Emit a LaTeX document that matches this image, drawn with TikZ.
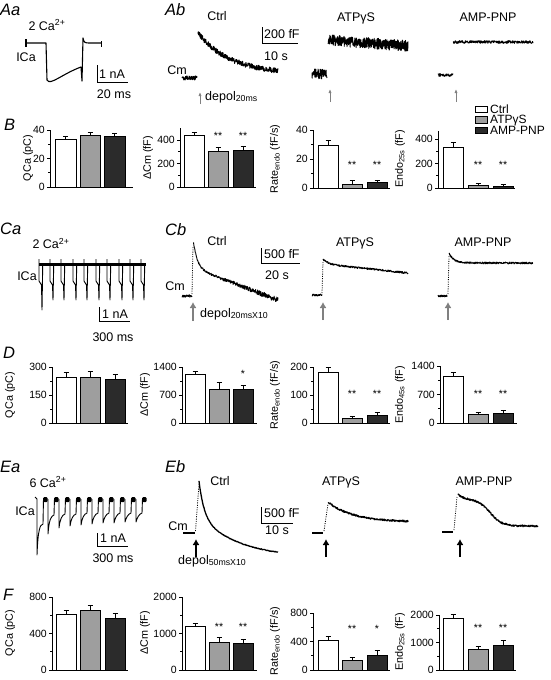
\documentclass[tikz,border=0pt]{standalone}
\usepackage{fontspec}
\setmainfont{Liberation Sans}
\usetikzlibrary{arrows.meta}
\definecolor{barg}{gray}{0.62}
\definecolor{bark}{gray}{0.17}
\definecolor{arrg}{gray}{0.5}
\newcommand\chA{0}\newcommand\chY{0}\newcommand\chS{1}
\newcommand\pbar[5]{%
  \draw[barline,fill=#5] ({\chA+#1},\chY) rectangle ({\chA+#2},{\chY-#3*\chS});
  \draw[barline] ({\chA+(#1+#2)/2},{\chY-#3*\chS}) -- ({\chA+(#1+#2)/2},{\chY-#4*\chS})
     ({\chA+(#1+#2)/2-2.5},{\chY-#4*\chS}) -- ({\chA+(#1+#2)/2+2.5},{\chY-#4*\chS});
}
\newcommand\paxis[5]{%
  \draw[axline] (\chA,{\chY-#1*\chS}) -- (\chA,\chY) -- ({\chA+#2},\chY);
  \foreach \v in {#3} {\draw[axline] (\chA,{\chY-\v*\chS}) -- ({\chA-3.5},{\chY-\v*\chS});
     \node[ticklab] (#5\v) at ({\chA-5},{\chY-\v*\chS}) {\v};}
  \foreach \v in {#4} {\draw[axline] (\chA,{\chY-\v*\chS}) -- ({\chA-2},{\chY-\v*\chS});}
}
\tikzset{
  lab/.style={font=\fontsize{12.5}{14}\selectfont, inner sep=0pt, anchor=base},
  labw/.style={font=\fontsize{12.5}{14}\selectfont, inner sep=0pt, anchor=base west},
  leg/.style={font=\fontsize{12}{14}\selectfont, inner sep=0pt, anchor=base west},
  panel/.style={font=\fontsize{16.5}{18}\selectfont\itshape, inner sep=0pt, anchor=base west},
  ticklab/.style={font=\fontsize{10.5}{12}\selectfont, inner sep=0pt, anchor=east},
  axlab/.style={font=\fontsize{10.8}{12}\selectfont, inner sep=0pt, rotate=90},
  star/.style={font=\fontsize{10.5}{12}\selectfont, inner sep=0pt, anchor=base},
  axline/.style={line width=0.9pt},
  barline/.style={line width=0.9pt},
  trace/.style={line width=0.9pt, line join=round},
  scalebar/.style={line width=0.9pt},
  dotrise/.style={line width=0.8pt, dash pattern=on 1pt off 1.3pt},
  thinarrow/.style={draw=arrg, line width=0.9pt, -{Latex[length=4pt,width=3.2pt]}},
  fatarrow/.style={line width=2.6pt, -{Latex[length=6pt,width=7pt]}},
}
\begin{document}
\begin{tikzpicture}[x=1pt,y=-1pt]
\useasboundingbox (0,0) rectangle (550,680);
\pgfmathsetseed{11}
% ---------------- panel letters
\node[panel] (pAa) at (0,15) {Aa};
\node[panel] (pAb) at (165,15) {Ab};
\node[panel] (pB) at (4,130) {B};
\node[panel] (pCa) at (0,234) {Ca};
\node[panel] (pCb) at (165,235) {Cb};
\node[panel] (pD) at (3,358) {D};
\node[panel] (pEa) at (0,472) {Ea};
\node[panel] (pEb) at (165,472) {Eb};
\node[panel] (pF) at (3,600) {F};
% ---------------- Aa
\node[lab] (aCa) at (47,30) {2 Ca\textsuperscript{2+}};
\node[lab] (aICa) at (26,61) {ICa};
\draw[trace, line width=1.1pt] (26,43) -- (46,43) -- (47,80) .. controls (50,86) and (62,74) .. (81,67) -- (82,81) -- (83,38) .. controls (84,43) and (85,43) .. (90,43) -- (101,43);
\draw[line width=2pt] (26,39) -- (26,47);
\draw[trace] (101,41) -- (101,47);
\draw[scalebar] (97,65) -- (97,82) -- (128,82);
\node[labw] (aNA) at (99,78) {1 nA};
\node[lab] (aMS) at (114,98) {20 ms};
% ---------------- Ab
\node[lab] (bCtrl) at (217,20.5) {Ctrl};
\node[lab] (bATP) at (356,21) {ATPγS};
\node[lab] (bAMP) at (488,21) {AMP-PNP};
\node[lab] (bCm) at (177,74) {Cm};
\draw[trace, line width=1pt] plot[domain=182:197, samples=50] (\x,{78+2.3*rand});
\draw[trace, line width=1pt] plot[domain=198:278, samples=300] (\x,{74-41*exp(-(\x-198)/32)+2.6*rand});
\draw[trace, line width=0.9pt] plot[domain=312:327, samples=80] (\x,{74+5*rand});
\draw[trace, line width=0.9pt] plot[domain=328:408, samples=380] (\x,{40+6*(\x-328)/80+5.5*rand});
\draw[trace, line width=0.9pt] plot[domain=438:453, samples=45] (\x,{75+1.6*rand});
\draw[trace, line width=0.9pt] plot[domain=453:533, samples=260] (\x,{42+1.4*rand});
\draw[scalebar] (262,27) -- (262,43) -- (298,43);
\node[labw] (bFF) at (264,38) {200 fF};
\node[labw] (bS) at (264,60) {10 s};
\coordinate (ar1a) at (200,104); \coordinate (ar1b) at (200,92);
\coordinate (ar2a) at (330,102); \coordinate (ar2b) at (330,89);
\coordinate (ar3a) at (456,102); \coordinate (ar3b) at (456,89);
\draw[thinarrow] (ar1a) -- (ar1b);
\draw[thinarrow] (ar2a) -- (ar2b);
\draw[thinarrow] (ar3a) -- (ar3b);
\node[labw] (bDep) at (205,100) {depol\textsubscript{20ms}};
% legend
\draw[barline,fill=white] (475,106) rectangle (487,112.5);
\draw[barline,fill=barg] (475,116.5) rectangle (487,123);
\draw[barline,fill=bark] (475,127) rectangle (487,133.5);
\node[leg] (lg1) at (490,113) {Ctrl};
\node[leg] (lg2) at (490,123.5) {ATPγS};
\node[leg] (lg3) at (490,134) {AMP-PNP};
% ---------------- B charts
\def\chA{50}\def\chY{187}\def\chS{1.425}
\paxis{40}{83}{0,20,40}{10,30}{tbq}
\pbar{5}{26}{33.5}{35.5}{white}
\pbar{30}{50}{36}{38}{barg}
\pbar{54}{75}{35.3}{37.6}{bark}
\node[axlab] (ylB1) at (28,158) {QCa (pC)};
\def\chA{180}\def\chY{187}\def\chS{0.1175}
\paxis{500}{76}{0,200,400}{100,300}{tbc}
\pbar{4}{24}{440}{465}{white}
\pbar{28}{48}{300}{340}{barg}
\pbar{53}{73}{315}{345}{bark}
\node[axlab] (ylB2) at (148,158) {ΔCm (fF)};
\node[star] (sB2a) at (218,139.5) {**};
\node[star] (sB2b) at (243,139.5) {**};
\def\chA{313}\def\chY{188}\def\chS{1.45}
\paxis{40}{77}{0,20,40}{10,30}{tbr}
\pbar{5}{25}{29.5}{33}{white}
\pbar{29}{49}{2.5}{5}{barg}
\pbar{54}{74}{3.5}{5}{bark}
\node[axlab] (ylB3) at (275,159) {Rate\textsubscript{endo} (fF/s)};
\node[star] (sB3a) at (352,168.5) {**};
\node[star] (sB3b) at (377,168.5) {**};
\def\chA{438}\def\chY{188}\def\chS{0.12175}
\paxis{470}{77}{0,200,400}{100,300}{tbe}
\pbar{5}{25}{335}{375}{white}
\pbar{30}{50}{20}{35}{barg}
\pbar{55}{75}{15}{30}{bark}
\node[axlab] (ylB4) at (400,159) {Endo\textsubscript{25s} (fF)};
\node[star] (sB4a) at (478,168.5) {**};
\node[star] (sB4b) at (503,168.5) {**};
% ---------------- Ca
\node[lab] (cCa) at (51,248.5) {2 Ca\textsuperscript{2+}};
\node[lab] (cICa) at (27,280) {ICa};
\draw[line width=2.6pt] (39,264.5) -- (146,264.5);
\foreach \p/\lo in {42/310,53/300,64/300,76/300,87/300,99/300,110/300,122/300,133/300,144/300} {
  \draw[trace] (\p-3,259) -- (\p-3,281) -- (\p-0.5,285) -- (\p,\lo) -- (\p+0.7,266);
}
\draw[scalebar] (99,307) -- (99,321) -- (130,321);
\node[lab] (cNA) at (115,318.5) {1 nA};
\node[lab] (cMS) at (113,341) {300 ms};
% ---------------- Cb
\node[lab] (dCtrl) at (217,245) {Ctrl};
\node[lab] (dATP) at (355,246) {ATPγS};
\node[lab] (dAMP) at (483,246) {AMP-PNP};
\node[lab] (dCm) at (175,290) {Cm};
\draw[trace, line width=1pt] plot[domain=182:192, samples=30] (\x,{296+1.3*rand});
\draw[dotrise] (192,294) -- (193,246);
\draw[trace, line width=0.9pt] plot[domain=193.5:278, samples=280] (\x,{242+26*(1-exp(-(\x-193.5)/4))+32*(\x-193.5)/84.5+(0.8+2.2*(\x-193.5)/84.5)*rand});
\draw[trace, line width=1pt] plot[domain=312:322, samples=30] (\x,{295+0.9*rand});
\draw[dotrise] (322,293) -- (323,262);
\draw[trace, line width=1pt] plot[domain=323:408, samples=250] (\x,{259+5*(1-exp(-(\x-323)/5))+9*(\x-323)/85+0.9*rand});
\draw[trace, line width=1pt] plot[domain=438:447, samples=30] (\x,{296+0.9*rand});
\draw[dotrise] (448,294) -- (449,256);
\draw[trace, line width=1pt] plot[domain=449:533, samples=250] (\x,{253+10*(1-exp(-(\x-449)/5))+0.9*rand});
\draw[scalebar] (261,248) -- (261,263) -- (300,263);
\node[labw] (dFF) at (264,258) {500 fF};
\node[labw] (dS) at (265,279) {20 s};
\coordinate (cr1a) at (193,321); \coordinate (cr1b) at (193,302);
\coordinate (cr2a) at (323,320); \coordinate (cr2b) at (323,302);
\coordinate (cr3a) at (448,320); \coordinate (cr3b) at (448,302);
\draw[fatarrow, draw=arrg, fill=arrg] (cr1a) -- (cr1b);
\draw[fatarrow, draw=arrg, fill=arrg] (cr2a) -- (cr2b);
\draw[fatarrow, draw=arrg, fill=arrg] (cr3a) -- (cr3b);
\node[labw] (dDep) at (200,317) {depol\textsubscript{20msX10}};
% ---------------- D charts
\def\chA{52}\def\chY{423}\def\chS{0.18667}
\paxis{300}{76}{0,150,300}{75,225}{tdq}
\pbar{4}{24}{245}{270}{white}
\pbar{28}{48}{245}{275}{barg}
\pbar{53}{73}{235}{260}{bark}
\node[axlab] (ylD1) at (10,395) {QCa (pC)};
\def\chA{182}\def\chY{423}\def\chS{0.04}
\paxis{1400}{75}{0,700,1400}{350,1050}{tdc}
\pbar{3}{23}{1220}{1300}{white}
\pbar{27}{47}{850}{1020}{barg}
\pbar{51}{71}{850}{950}{bark}
\node[axlab] (ylD2) at (145,395) {ΔCm (fF)};
\node[star] (sD2) at (243,377.5) {*};
\def\chA{313}\def\chY{423}\def\chS{0.28}
\paxis{200}{77}{0,100,200}{50,150}{tdr}
\pbar{5}{25}{180}{200}{white}
\pbar{29}{49}{15}{22}{barg}
\pbar{54}{74}{27}{37}{bark}
\node[axlab] (ylD3) at (275,395) {Rate\textsubscript{endo} (fF/s)};
\node[star] (sD3a) at (352,397.5) {**};
\node[star] (sD3b) at (377,397.5) {**};
\def\chA{440}\def\chY{423}\def\chS{0.0407}
\paxis{1400}{77}{0,700,1400}{350,1050}{tde}
\pbar{3}{23}{1150}{1230}{white}
\pbar{28}{48}{220}{270}{barg}
\pbar{53}{73}{240}{300}{bark}
\node[axlab] (ylD4) at (400,395) {Endo\textsubscript{45s} (fF)};
\node[star] (sD4a) at (478,397.5) {**};
\node[star] (sD4b) at (503,397.5) {**};
% ---------------- Ea
\node[lab] (eCa) at (48,487) {6 Ca\textsuperscript{2+}};
\node[lab] (eICa) at (25,515) {ICa};
\draw[trace] (35,497) -- (37,499);
\foreach \p/\lo/\rc in {37/555/524, 48/534/515, 59/528/514, 70/526/514, 81/525/513, 92/524/513, 103/523/513, 114/523/513, 125/522/513, 136/522/513} {
  \draw[trace] (\p,499) -- (\p,\lo) .. controls (\p+1,\rc+5) and (\p+3,\rc+1) .. (\p+6,\rc) -- (\p+6.5,498);
  \fill[rounded corners=1pt] (\p+6.3,497) rectangle (\p+10.5,502);
}
\draw[scalebar] (97,533) -- (97,546) -- (128,546);
\node[lab] (eNA) at (113,542) {1 nA};
\node[lab] (eMS) at (113,562) {300 ms};
% ---------------- Eb
\node[lab] (fCtrl) at (220,485) {Ctrl};
\node[lab] (fATP) at (341,485) {ATPγS};
\node[lab] (fAMP) at (484,485) {AMP-PNP};
\node[lab] (fCm) at (178,530) {Cm};
\draw[trace, line width=1.3pt] (183,533) -- (195,533);
\draw[dotrise] (195.5,531) -- (199,484);
\draw[trace, line width=1.3pt] plot[domain=199:278, samples=200] (\x,{481+35*(1-exp(-(\x-199)/5))+42*(1-exp(-(\x-199)/40))+0.35*rand});
\draw[trace, line width=1.3pt] (312,533) -- (323,533);
\draw[dotrise] (324,531) -- (328,504);
\draw[trace, line width=1.2pt] plot[domain=328:408, samples=220] (\x,{502+20*(1-exp(-(\x-328)/25))+0.9*rand});
\draw[trace, line width=1.3pt] (442,532) -- (453,532);
\draw[dotrise] (454,530) -- (457,497);
\draw[trace, line width=1.2pt] plot[domain=458:538, samples=220] (\x,{494+5*(1-exp(-(\x-458)/5))+27/(1+exp(-(\x-490)/6))+0.9*rand});
\draw[scalebar] (261,507) -- (261,523) -- (293,523);
\node[labw] (fFF) at (264,517) {500 fF};
\node[labw] (fS) at (265,534) {10 s};
\coordinate (er1a) at (196,557); \coordinate (er1b) at (196,539);
\coordinate (er2a) at (326,557); \coordinate (er2b) at (326,539);
\coordinate (er3a) at (460,557); \coordinate (er3b) at (460,539);
\draw[fatarrow] (er1a) -- (er1b);
\draw[fatarrow] (er2a) -- (er2b);
\draw[fatarrow] (er3a) -- (er3b);
\node[labw] (fDep) at (178,564) {depol\textsubscript{50msX10}};
% ---------------- F charts
\def\chA{52}\def\chY{670}\def\chS{0.09125}
\paxis{800}{76}{0,400,800}{200,600}{tfq}
\pbar{4}{24}{610}{650}{white}
\pbar{28}{48}{650}{710}{barg}
\pbar{53}{73}{565}{620}{bark}
\node[axlab] (ylF1) at (10,633) {QCa (pC)};
\def\chA{182}\def\chY{670}\def\chS{0.0365}
\paxis{2000}{75}{0,1000,2000}{500,1500}{tfc}
\pbar{3}{23}{1180}{1270}{white}
\pbar{27}{47}{760}{880}{barg}
\pbar{51}{71}{720}{830}{bark}
\node[axlab] (ylF2) at (145,633) {ΔCm (fF)};
\node[star] (sF2a) at (219,630.5) {**};
\node[star] (sF2b) at (243,630.5) {**};
\def\chA{313}\def\chY{670}\def\chS{0.07125}
\paxis{800}{77}{0,400,800}{200,600}{tfr}
\pbar{5}{25}{420}{470}{white}
\pbar{29}{49}{130}{170}{barg}
\pbar{54}{74}{200}{280}{bark}
\node[axlab] (ylF3) at (275,641) {Rate\textsubscript{endo} (fF/s)};
\node[star] (sF3a) at (352,632) {**};
\node[star] (sF3b) at (377,632) {*};
\def\chA{439}\def\chY{670}\def\chS{0.0275}
\paxis{2000}{77}{0,1000,2000}{500,1500}{tfe}
\pbar{4}{24}{1890}{2030}{white}
\pbar{29}{49}{760}{850}{barg}
\pbar{54}{74}{880}{1090}{bark}
\node[axlab] (ylF4) at (400,642) {Endo\textsubscript{25s} (fF)};
\node[star] (sF4a) at (478,631.5) {**};
\node[star] (sF4b) at (503,631.5) {**};
\end{tikzpicture}
\end{document}
